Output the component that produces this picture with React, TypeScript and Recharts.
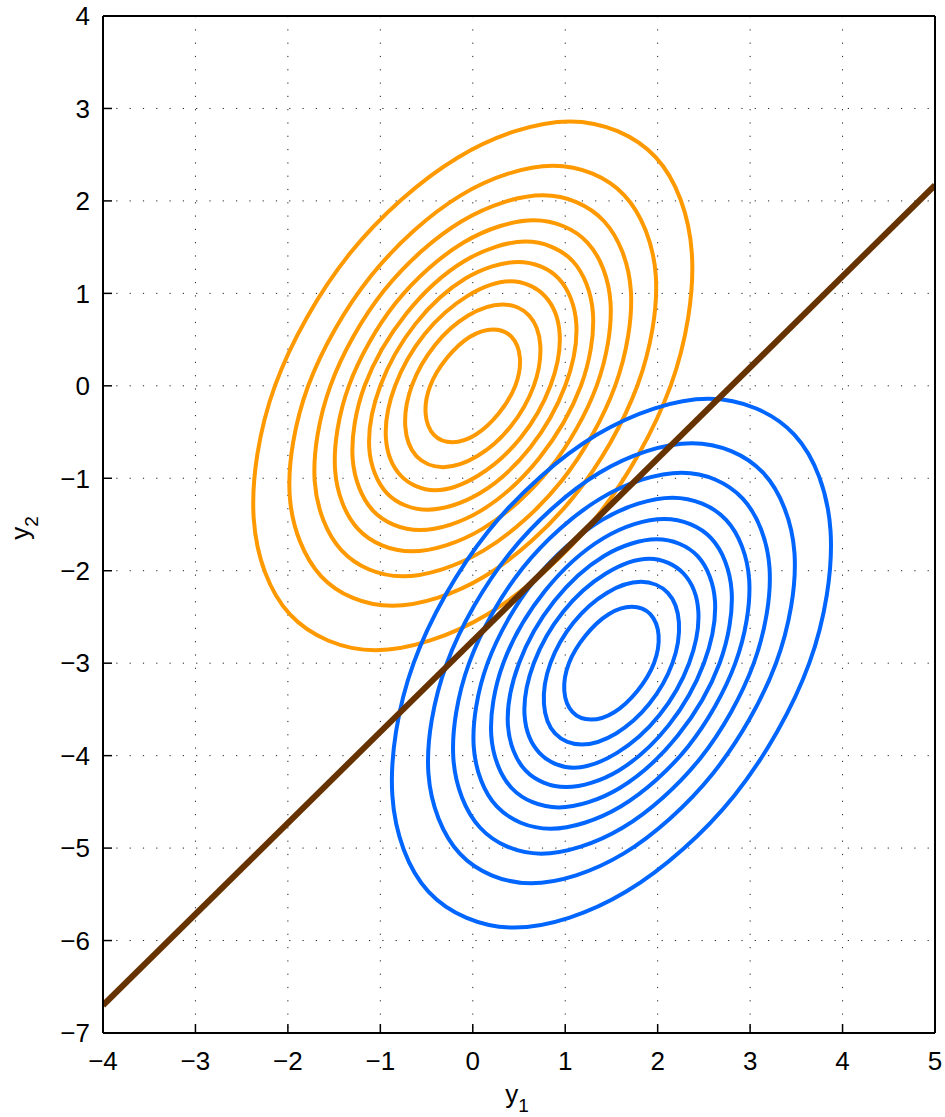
import { ComposedChart, Line, XAxis, YAxis, CartesianGrid } from 'recharts'

type Pt = [number, number]

const xTicks = [-4, -3, -2, -1, 0, 1, 2, 3, 4, 5]
const yTicks = [-7, -6, -5, -4, -3, -2, -1, 0, 1, 2, 3, 4]

// orange class, contours from outside in
const orange1: Pt[] = [[2.14, 0], [2.37, 1.43], [1.98, 2.47], [1.05, 2.86], [-0.16, 2.47], [-1.33, 1.43], [-2.14, 0], [-2.37, -1.43], [-1.98, -2.47], [-1.05, -2.86], [0.16, -2.47], [1.33, -1.43]]
const orange2: Pt[] = [[1.78, 0], [1.98, 1.19], [1.64, 2.06], [0.87, 2.38], [-0.13, 2.06], [-1.1, 1.19], [-1.78, 0], [-1.98, -1.19], [-1.64, -2.06], [-0.87, -2.38], [0.13, -2.06], [1.1, -1.19]]
const orange3: Pt[] = [[1.54, 0], [1.71, 1.03], [1.42, 1.78], [0.76, 2.06], [-0.12, 1.78], [-0.96, 1.03], [-1.54, 0], [-1.71, -1.03], [-1.42, -1.78], [-0.76, -2.06], [0.12, -1.78], [0.96, -1.03]]
const orange4: Pt[] = [[1.34, 0], [1.49, 0.9], [1.24, 1.55], [0.66, 1.79], [-0.1, 1.55], [-0.83, 0.9], [-1.34, 0], [-1.49, -0.9], [-1.24, -1.55], [-0.66, -1.79], [0.1, -1.55], [0.83, -0.9]]
const orange5: Pt[] = [[1.17, 0], [1.3, 0.78], [1.08, 1.35], [0.57, 1.56], [-0.09, 1.35], [-0.72, 0.78], [-1.17, 0], [-1.3, -0.78], [-1.08, -1.35], [-0.57, -1.56], [0.09, -1.35], [0.72, -0.78]]
const orange6: Pt[] = [[1.0, 0], [1.12, 0.67], [0.93, 1.16], [0.49, 1.34], [-0.08, 1.16], [-0.62, 0.67], [-1.0, 0], [-1.12, -0.67], [-0.93, -1.16], [-0.49, -1.34], [0.08, -1.16], [0.62, -0.67]]
const orange7: Pt[] = [[0.84, 0], [0.94, 0.56], [0.78, 0.97], [0.41, 1.13], [-0.06, 0.97], [-0.52, 0.56], [-0.84, 0], [-0.94, -0.56], [-0.78, -0.97], [-0.41, -1.13], [0.06, -0.97], [0.52, -0.56]]
const orange8: Pt[] = [[0.66, 0], [0.73, 0.44], [0.61, 0.76], [0.32, 0.88], [-0.05, 0.76], [-0.41, 0.44], [-0.66, 0], [-0.73, -0.44], [-0.61, -0.76], [-0.32, -0.88], [0.05, -0.76], [0.41, -0.44]]
const orange9: Pt[] = [[0.46, 0], [0.51, 0.3], [0.42, 0.53], [0.22, 0.61], [-0.03, 0.53], [-0.28, 0.3], [-0.46, 0], [-0.51, -0.3], [-0.42, -0.53], [-0.22, -0.61], [0.03, -0.53], [0.28, -0.3]]

// blue class
const blue1: Pt[] = [[3.64, -3.0], [3.87, -1.57], [3.48, -0.53], [2.55, -0.14], [1.34, -0.53], [0.17, -1.57], [-0.64, -3.0], [-0.87, -4.43], [-0.48, -5.47], [0.45, -5.86], [1.66, -5.47], [2.83, -4.43]]
const blue2: Pt[] = [[3.28, -3.0], [3.48, -1.81], [3.14, -0.94], [2.37, -0.62], [1.37, -0.94], [0.4, -1.81], [-0.28, -3.0], [-0.48, -4.19], [-0.14, -5.06], [0.63, -5.38], [1.63, -5.06], [2.6, -4.19]]
const blue3: Pt[] = [[3.04, -3.0], [3.21, -1.97], [2.92, -1.22], [2.26, -0.94], [1.38, -1.22], [0.54, -1.97], [-0.04, -3.0], [-0.21, -4.03], [0.08, -4.78], [0.74, -5.06], [1.62, -4.78], [2.46, -4.03]]
const blue4: Pt[] = [[2.84, -3.0], [2.99, -2.1], [2.74, -1.45], [2.16, -1.21], [1.4, -1.45], [0.67, -2.1], [0.16, -3.0], [0.01, -3.9], [0.26, -4.55], [0.84, -4.79], [1.6, -4.55], [2.33, -3.9]]
const blue5: Pt[] = [[2.67, -3.0], [2.8, -2.22], [2.58, -1.65], [2.07, -1.44], [1.41, -1.65], [0.78, -2.22], [0.33, -3.0], [0.2, -3.78], [0.42, -4.35], [0.93, -4.56], [1.59, -4.35], [2.22, -3.78]]
const blue6: Pt[] = [[2.5, -3.0], [2.62, -2.33], [2.43, -1.84], [1.99, -1.66], [1.42, -1.84], [0.88, -2.33], [0.5, -3.0], [0.38, -3.67], [0.57, -4.16], [1.01, -4.34], [1.58, -4.16], [2.12, -3.67]]
const blue7: Pt[] = [[2.34, -3.0], [2.44, -2.44], [2.28, -2.03], [1.91, -1.87], [1.44, -2.03], [0.98, -2.44], [0.66, -3.0], [0.56, -3.56], [0.72, -3.97], [1.09, -4.13], [1.56, -3.97], [2.02, -3.56]]
const blue8: Pt[] = [[2.16, -3.0], [2.23, -2.56], [2.11, -2.24], [1.82, -2.12], [1.45, -2.24], [1.09, -2.56], [0.84, -3.0], [0.77, -3.44], [0.89, -3.76], [1.18, -3.88], [1.55, -3.76], [1.91, -3.44]]
const blue9: Pt[] = [[1.96, -3.0], [2.01, -2.7], [1.92, -2.47], [1.72, -2.39], [1.47, -2.47], [1.22, -2.7], [1.04, -3.0], [0.99, -3.3], [1.08, -3.53], [1.28, -3.61], [1.53, -3.53], [1.78, -3.3]]

// decision boundary
const boundaryX = [-4, 5]
const boundaryY = [-6.7, 2.17]

const orangeRings = [orange1, orange2, orange3, orange4, orange5, orange6, orange7, orange8, orange9]
const blueRings = [blue1, blue2, blue3, blue4, blue5, blue6, blue7, blue8, blue9]

const toRows = (pts: Pt[]) => pts.map(([x, y]) => ({ x, y }))
const boundary = boundaryX.map((x, i) => ({ x, y: boundaryY[i] }))

const FONT = '"Liberation Sans", Arial, Helvetica, sans-serif'
const fmt = (v: number) => String(v).replace('-', '\u2212')

// closed catmull-rom so the rings come out round
function closedSpline(context: any) {
  let pts: number[][] = []
  return {
    areaStart() {},
    areaEnd() {},
    lineStart() {
      pts = []
    },
    point(x: number, y: number) {
      pts.push([x, y])
    },
    lineEnd() {
      const n = pts.length
      if (n < 3) return
      context.moveTo(pts[0][0], pts[0][1])
      for (let i = 0; i < n; i++) {
        const a = pts[(i + n - 1) % n]
        const b = pts[i]
        const c = pts[(i + 1) % n]
        const d = pts[(i + 2) % n]
        context.bezierCurveTo(
          b[0] + (c[0] - a[0]) / 6,
          b[1] + (c[1] - a[1]) / 6,
          c[0] - (d[0] - b[0]) / 6,
          c[1] - (d[1] - b[1]) / 6,
          c[0],
          c[1]
        )
      }
      context.closePath()
    },
  }
}

const tickStyle = { fill: '#000', fontSize: 26, fontFamily: FONT }
const axisLine = { stroke: '#000', strokeWidth: 2 }
const tickLine = { stroke: '#000', strokeWidth: 1.5 }

export default function App() {
  return (
    <div style={{ position: 'absolute', left: 0, top: 0, width: 945, height: 1117, background: '#fff' }}>
      <ComposedChart width={945} height={1117} margin={{ top: 15, right: 9, bottom: 0, left: 0 }}>
        <CartesianGrid stroke="#222" strokeDasharray="1.2 12.1" />
        <XAxis
          type="number"
          dataKey="x"
          domain={[-4, 5]}
          ticks={xTicks}
          interval={0}
          allowDataOverflow
          height={84}
          tickSize={-9}
          tickMargin={28}
          tick={tickStyle}
          tickFormatter={fmt}
          axisLine={axisLine}
          tickLine={tickLine}
        />
        <XAxis
          xAxisId="top"
          orientation="top"
          type="number"
          domain={[-4, 5]}
          ticks={xTicks}
          interval={0}
          allowDataOverflow
          height={1}
          tickSize={-9}
          tick={false}
          axisLine={axisLine}
          tickLine={tickLine}
        />
        <YAxis
          type="number"
          dataKey="y"
          domain={[-7, 4]}
          ticks={yTicks}
          interval={0}
          allowDataOverflow
          width={103}
          tickSize={-9}
          tickMargin={22}
          tick={tickStyle}
          tickFormatter={fmt}
          axisLine={axisLine}
          tickLine={tickLine}
        />
        <YAxis
          yAxisId="right"
          orientation="right"
          type="number"
          domain={[-7, 4]}
          ticks={yTicks}
          interval={0}
          allowDataOverflow
          width={1}
          tickSize={-9}
          tick={false}
          axisLine={axisLine}
          tickLine={tickLine}
        />
        {orangeRings.map((ring, i) => (
          <Line
            key={'o' + i}
            data={toRows(ring)}
            dataKey="y"
            type={closedSpline as any}
            stroke="#ff9900"
            strokeWidth={4}
            dot={false}
            activeDot={false}
            isAnimationActive={false}
          />
        ))}
        {blueRings.map((ring, i) => (
          <Line
            key={'b' + i}
            data={toRows(ring)}
            dataKey="y"
            type={closedSpline as any}
            stroke="#0066ff"
            strokeWidth={4}
            dot={false}
            activeDot={false}
            isAnimationActive={false}
          />
        ))}
        <Line
          data={boundary}
          dataKey="y"
          type="linear"
          stroke="#663300"
          strokeWidth={6}
          dot={false}
          activeDot={false}
          isAnimationActive={false}
        />
      </ComposedChart>
      <svg width={945} height={1117} style={{ position: 'absolute', left: 0, top: 0, pointerEvents: 'none' }}>
        <text x={517} y={1103} textAnchor="middle" fontSize={26} fontFamily={FONT} fill="#000">
          y<tspan fontSize={19} dy={9}>1</tspan>
        </text>
        <text
          x={0}
          y={0}
          transform="translate(29 528) rotate(-90)"
          textAnchor="middle"
          fontSize={26}
          fontFamily={FONT}
          fill="#000"
        >
          y<tspan fontSize={19} dy={9}>2</tspan>
        </text>
      </svg>
    </div>
  )
}
